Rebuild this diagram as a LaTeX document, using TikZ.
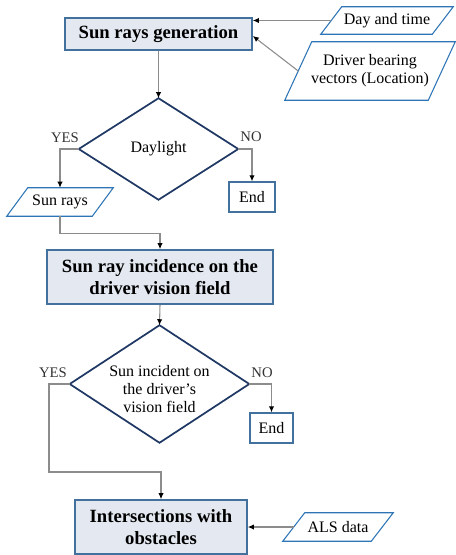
\documentclass[tikz,border=0pt]{standalone}
\usepackage{fontspec}
\setmainfont{Liberation Serif}
\usetikzlibrary{arrows.meta,calc}
\definecolor{boxfill}{HTML}{E4E9F1}
\definecolor{boxborder}{HTML}{41719C}
\definecolor{paraborder}{HTML}{2E75B6}
\definecolor{diaborder}{HTML}{203864}
\definecolor{conn}{HTML}{8C8C8C}
\tikzset{
  procbox/.style={draw=boxborder, fill=boxfill, line width=1.2pt, inner sep=0pt, align=center,
    font=\fontsize{14}{16}\selectfont\bfseries},
  endbox/.style={draw=boxborder, fill=white, line width=1pt, inner sep=0pt,
    font=\fontsize{12}{14}\selectfont},
  paratext/.style={inner sep=0pt, align=center, font=\fontsize{12}{13.5}\selectfont},
  paraline/.style={draw=paraborder, line width=0.8pt, line join=miter},
  decitext/.style={inner sep=0pt, align=center, font=\fontsize{12}{13.5}\selectfont},
  decline/.style={draw=diaborder, line width=1.3pt, line join=miter},
  lbl/.style={inner sep=0pt, font=\fontsize{11}{13}\selectfont, text=black!80},
  conn/.style={draw=conn, line width=0.8pt, -{Latex[length=4.5pt,width=4pt,color=black]}},
  sz/.style 2 args={minimum width={0.75*#1}, minimum height={0.75*#2}},
}
% parallelogram: name, slant (px)
\newcommand{\drawpara}[2]{%
  \draw[paraline] (#1.south west) -- ($(#1.north west)+(#2,0)$) -- (#1.north east)
     -- ($(#1.south east)-(#2,0)$) -- cycle;
  \coordinate (#1-in) at ($(#1.west)+(#2/2,0)$);}
\newcommand{\drawdiamond}[1]{%
  \draw[decline] (#1.north) -- (#1.east) -- (#1.south) -- (#1.west) -- cycle;}
\begin{document}
\begin{tikzpicture}[x=0.75pt,y=-0.75pt]
\useasboundingbox (0,0) rectangle (455,555);
% process boxes
\node[procbox, sz={187}{32}] (box1) at (158.5,34) {Sun rays generation};
\node[procbox, sz={226}{54}] (box2) at (160,277) {Sun ray incidence on the\\driver vision field};
\node[procbox, sz={172}{54}] (box3) at (161,527) {Intersections with\\obstacles};
% inputs
\node[paratext, sz={132}{27}] (dt) at (387,20.5) {Day and time};
\drawpara{dt}{21}
\node[paratext, sz={170}{58}] (db) at (370,71) {Driver bearing\\vectors (Location)};
\drawpara{db}{27}
\node[paratext, sz={106}{28}] (sr) at (60,202) {Sun rays};
\drawpara{sr}{21}
\node[paratext, sz={110}{28}] (als) at (338,527) {ALS data};
\drawpara{als}{22}
% decisions
\node[decitext, sz={159}{101}] (d1) at (158.5,149) {Daylight};
\drawdiamond{d1}
\node[decitext, sz={179}{117}] (d2) at (159.5,384) {};
\drawdiamond{d2}
\node[decitext] (d2t) at (159.5,389) {Sun incident on\\the driver’s\\vision field};
% ends
\node[endbox, sz={46}{30}] (e1) at (252,197) {End};
\node[endbox, sz={43}{30}] (e2) at (271.5,428) {End};
% labels
\node[lbl] (y1) at (65,138) {YES};
\node[lbl] (n1) at (251,137) {NO};
\node[lbl] (y2) at (53,373) {YES};
\node[lbl] (n2) at (262,373) {NO};
\coordinate (yc) at (49,472);
% connectors
\draw[conn] (dt-in) -- (dt-in -| box1.east);
\draw[conn] (db-in) -- ($(box1.east)+(0,2)$);
\draw[conn] (box1.south) -- (d1.north);
\draw[conn] (d1.west) -| (sr.north);
\draw[conn] (d1.east) -| (e1.north);
\draw[conn] (sr.south) -- ++(0,17) -| (box2.north);
\draw[conn] (box2.south) -- (d2.north);
\draw[conn] (d2.east) -| (e2.north);
\draw[conn] (d2.west) -| (yc) -| (box3.north);
\draw[conn] (als-in) -- (box3.east);
\end{tikzpicture}
\end{document}
